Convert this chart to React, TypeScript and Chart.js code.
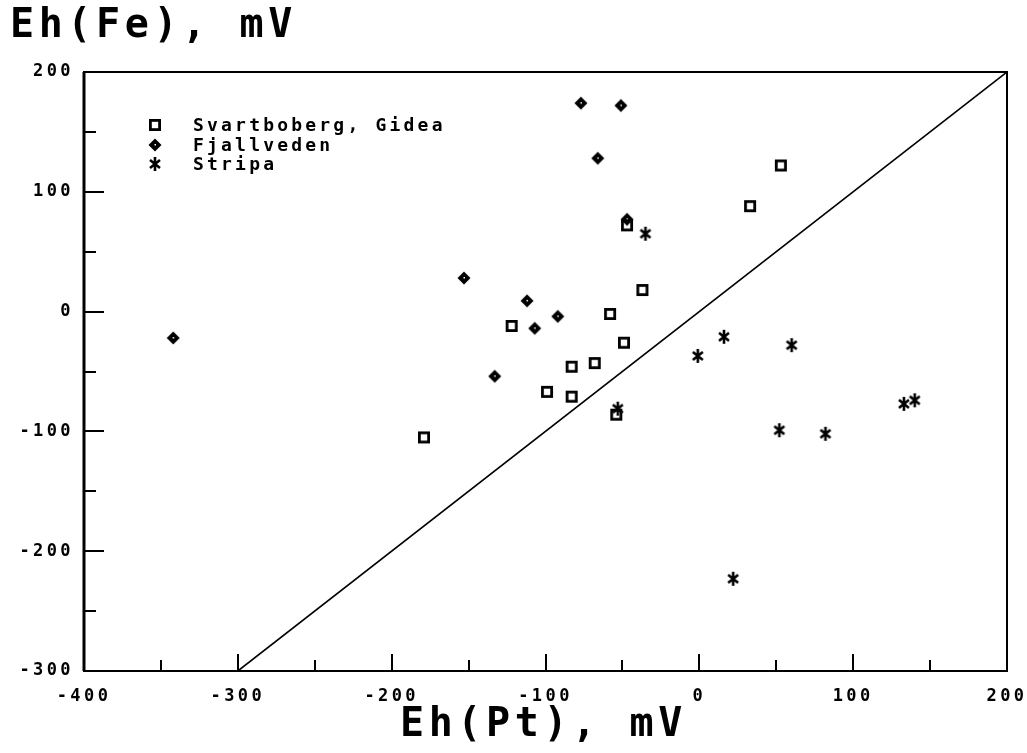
import React, { useEffect, useRef } from "react";
import { Chart, registerables } from "chart.js";

Chart.register(...registerables);

// Axis ranges and tick values (mV)
const X_MIN = -400;
const X_MAX = 200;
const Y_MIN = -300;
const Y_MAX = 200;
const MAJOR_STEP = 100;
const MINOR_STEP = 50;

// Measured redox potentials: [Eh(Pt), Eh(Fe)] in mV
const svartboberg: [number, number][] = [
  [-179, -105], [-122, -12], [-58, -2], [-37, 18], [-49, -26],
  [-83, -46], [-68, -43], [-99, -67], [-83, -71], [-54, -86],
  [-47, 72], [33, 88], [53, 122],
];
const fjallveden: [number, number][] = [
  [-77, 174], [-51, 172], [-66, 128], [-47, 77], [-153, 28],
  [-112, 9], [-92, -4], [-107, -14], [-133, -54], [-342, -22],
];
const stripa: [number, number][] = [
  [-35, 65], [-53, -81], [-1, -37], [16, -21], [60, -28],
  [133, -77], [140, -74], [52, -99], [82, -102], [22, -223],
];
// 1:1 reference line Eh(Fe) = Eh(Pt)
const equalityLine: [number, number][] = [[-300, -300], [200, 200]];

const seriesNames = ["Svartboberg, Gidea", "Fjallveden", "Stripa"];
const yTitle = "Eh(Fe), mV";
const xTitle = "Eh(Pt), mV";

const MONO = '"DejaVu Sans Mono", "Liberation Mono", monospace';
const INK = "#000";

const toPoints = (rows: [number, number][]) => rows.map(([x, y]) => ({ x, y }));

function makeSquare(): HTMLCanvasElement {
  const c = document.createElement("canvas");
  c.width = 14;
  c.height = 14;
  const g = c.getContext("2d")!;
  g.strokeStyle = INK;
  g.lineWidth = 2.8;
  g.strokeRect(2.4, 2.4, 9.2, 9.2);
  return c;
}

function makeDiamond(): HTMLCanvasElement {
  const c = document.createElement("canvas");
  c.width = 16;
  c.height = 16;
  const g = c.getContext("2d")!;
  g.fillStyle = INK;
  g.beginPath();
  g.moveTo(8, 1.5);
  g.lineTo(14.5, 8);
  g.lineTo(8, 14.5);
  g.lineTo(1.5, 8);
  g.closePath();
  g.fill();
  g.fillStyle = "#fff";
  g.fillRect(7.5, 7, 1.5, 1.5);
  return c;
}

function makeAsterisk(): HTMLCanvasElement {
  const c = document.createElement("canvas");
  c.width = 14;
  c.height = 16;
  const g = c.getContext("2d")!;
  g.strokeStyle = INK;
  g.lineWidth = 2.6;
  g.lineCap = "butt";
  g.beginPath();
  g.moveTo(7, 1);
  g.lineTo(7, 15);
  g.moveTo(2, 4);
  g.lineTo(12, 12);
  g.moveTo(12, 4);
  g.lineTo(2, 12);
  g.stroke();
  return c;
}

export default function App() {
  const canvasRef = useRef<HTMLCanvasElement | null>(null);

  useEffect(() => {
    const canvas = canvasRef.current;
    if (!canvas) return;

    const markers = [makeSquare(), makeDiamond(), makeAsterisk()];

    const decor = {
      id: "plotterDecor",
      beforeDraw(chart: any) {
        chart.ctx.letterSpacing = "3.4px";
      },
      beforeDatasetsDraw(chart: any) {
        chart.ctx.letterSpacing = "0px";
      },
      afterDraw(chart: any) {
        const { ctx, chartArea } = chart;
        const { left, right, top, bottom } = chartArea;
        const xs = chart.scales.x;
        const ys = chart.scales.y;
        ctx.save();
        ctx.letterSpacing = "0px";
        ctx.strokeStyle = INK;

        // frame
        ctx.lineWidth = 2;
        ctx.strokeRect(left, top, right - left, bottom - top);
        ctx.lineWidth = 3;
        ctx.beginPath();
        ctx.moveTo(left, top);
        ctx.lineTo(left, bottom);
        ctx.stroke();

        // inward tick marks on the bottom and left axes
        ctx.lineWidth = 2;
        ctx.beginPath();
        for (let v = X_MIN + MINOR_STEP; v < X_MAX; v += MINOR_STEP) {
          const px = Math.round(xs.getPixelForValue(v));
          const len = v % MAJOR_STEP === 0 ? 17 : 11;
          ctx.moveTo(px, bottom);
          ctx.lineTo(px, bottom - len);
        }
        for (let v = Y_MIN + MINOR_STEP; v < Y_MAX; v += MINOR_STEP) {
          const py = Math.round(ys.getPixelForValue(v));
          const len = v % MAJOR_STEP === 0 ? 20 : 12;
          ctx.moveTo(left, py);
          ctx.lineTo(left + len, py);
        }
        ctx.stroke();

        // axis titles
        ctx.fillStyle = INK;
        ctx.textBaseline = "alphabetic";
        ctx.font = `bold 40px ${MONO}`;
        ctx.letterSpacing = "4.6px";
        ctx.textAlign = "left";
        ctx.fillText(yTitle, 10, 37);
        ctx.fillText(xTitle, 400, 736);

        // legend
        ctx.font = `bold 18px ${MONO}`;
        ctx.letterSpacing = "3.2px";
        ctx.textBaseline = "middle";
        const rowsY = [125, 145, 164];
        seriesNames.forEach((name, i) => {
          const m = markers[i];
          ctx.drawImage(m, 155 - m.width / 2, rowsY[i] - m.height / 2);
          ctx.fillText(name, 193, rowsY[i] + 1);
        });
        ctx.restore();
      },
    };

    const chart = new Chart(canvas, {
      type: "scatter",
      data: {
        datasets: [
          {
            type: "line",
            label: "Eh(Fe) = Eh(Pt)",
            data: toPoints(equalityLine),
            borderColor: INK,
            borderWidth: 1.6,
            pointRadius: 0,
            fill: false,
          } as any,
          {
            label: seriesNames[0],
            data: toPoints(svartboberg),
            pointStyle: markers[0],
            pointRadius: 7,
          },
          {
            label: seriesNames[1],
            data: toPoints(fjallveden),
            pointStyle: markers[1],
            pointRadius: 7,
          },
          {
            label: seriesNames[2],
            data: toPoints(stripa),
            pointStyle: markers[2],
            pointRadius: 7,
          },
        ],
      },
      options: {
        responsive: false,
        animation: false,
        devicePixelRatio: 1,
        layout: { padding: { top: 72, right: 20, bottom: 0, left: 0 } },
        plugins: {
          legend: { display: false },
          tooltip: { enabled: false },
        },
        scales: {
          x: {
            type: "linear",
            min: X_MIN,
            max: X_MAX,
            grid: { display: false, drawTicks: false },
            border: { display: false },
            ticks: {
              stepSize: MAJOR_STEP,
              color: INK,
              padding: 15,
              maxRotation: 0,
              font: { family: MONO, size: 17, weight: "bold" },
            },
            afterFit: (s: any) => {
              s.height = 82;
              s.paddingLeft = 0;
              s.paddingRight = 0;
            },
          },
          y: {
            type: "linear",
            min: Y_MIN,
            max: Y_MAX,
            grid: { display: false, drawTicks: false },
            border: { display: false },
            ticks: {
              stepSize: MAJOR_STEP,
              color: INK,
              padding: 10,
              font: { family: MONO, size: 17, weight: "bold" },
            },
            afterFit: (s: any) => {
              s.width = 84;
              s.paddingTop = 0;
              s.paddingBottom = 0;
            },
          },
        },
      },
      plugins: [decor],
    } as any);

    return () => chart.destroy();
  }, []);

  return (
    <div style={{ position: "fixed", left: 0, top: 0, width: 1027, height: 753, background: "#fff" }}>
      <canvas ref={canvasRef} width={1027} height={753} style={{ display: "block" }} />
    </div>
  );
}
